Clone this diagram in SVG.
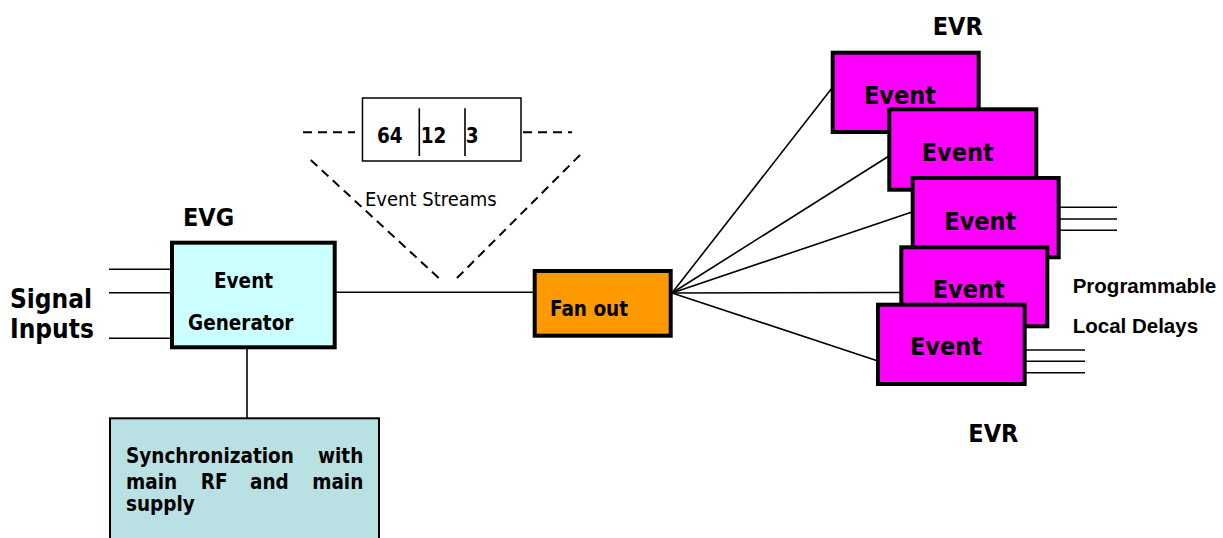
<svg xmlns="http://www.w3.org/2000/svg" width="1223" height="538" viewBox="0 0 1223 538">
<style>
.t{font-family:'DejaVu Sans Condensed','DejaVu Sans',sans-serif;font-stretch:condensed;font-weight:bold;fill:#000}
.r{font-family:'DejaVu Sans Condensed','DejaVu Sans',sans-serif;font-stretch:condensed;font-weight:normal;fill:#000}
.a{font-family:'Liberation Sans',Arial,sans-serif;font-weight:bold;fill:#000}
.ln{stroke:#000;stroke-width:1.6;fill:none}
.dash{stroke:#000;stroke-width:2;fill:none;stroke-dasharray:9 6}
.evr{fill:#ff00ff;stroke:#000;stroke-width:4}
</style>
<rect width="1223" height="538" fill="#fff"/>
<g id="connectors">
<line class="ln" x1="109" y1="269.3" x2="171" y2="269.3"/>
<line class="ln" x1="109" y1="292.7" x2="171" y2="292.7"/>
<line class="ln" x1="109" y1="338.3" x2="171" y2="338.3"/>
<line class="ln" x1="247" y1="349" x2="247" y2="418"/>
<line class="ln" x1="336" y1="292.3" x2="533" y2="292.3"/>
<line class="ln" x1="672" y1="293" x2="832" y2="88"/>
<line class="ln" x1="672" y1="293" x2="889" y2="156"/>
<line class="ln" x1="672" y1="293" x2="912" y2="212"/>
<line class="ln" x1="672" y1="293" x2="901" y2="292.5"/>
<line class="ln" x1="672" y1="293" x2="878" y2="361"/>
<line class="ln" x1="1060" y1="207.3" x2="1117" y2="207.3"/>
<line class="ln" x1="1060" y1="219" x2="1117" y2="219"/>
<line class="ln" x1="1060" y1="230.3" x2="1117" y2="230.3"/>
<line class="ln" x1="1026" y1="350" x2="1085" y2="350"/>
<line class="ln" x1="1026" y1="361.3" x2="1085" y2="361.3"/>
<line class="ln" x1="1026" y1="372.7" x2="1085" y2="372.7"/>
</g>
<g id="event-streams">
<line class="dash" x1="303" y1="132.3" x2="355" y2="132.3"/>
<line class="dash" x1="523" y1="132.3" x2="572" y2="132.3"/>
<line class="dash" x1="310.7" y1="160" x2="442.7" y2="281.7"/>
<line class="dash" x1="580" y1="155" x2="453.3" y2="281.7"/>
<rect x="362.5" y="98" width="158.5" height="63" fill="#fff" stroke="#000" stroke-width="1.5"/>
<line class="ln" x1="419.3" y1="108.3" x2="419.3" y2="156"/>
<line class="ln" x1="465" y1="108.3" x2="465" y2="156"/>
<text class="t" x="377" y="143.3" font-size="20.5">64</text>
<text class="t" x="420.7" y="143.3" font-size="20.5">12</text>
<text class="t" x="465.7" y="143.3" font-size="20.5">3</text>
<text class="r" x="365" y="206" font-size="20">Event Streams</text>
</g>
<g id="signal-inputs">
<text class="t" x="10" y="308" font-size="26">Signal</text>
<text class="t" x="10" y="338.3" font-size="26">Inputs</text>
</g>
<g id="evg">
<text class="t" x="183" y="226" font-size="25">EVG</text>
<rect x="172" y="242.7" width="162.7" height="104.6" fill="#ccffff" stroke="#000" stroke-width="4"/>
<text class="t" x="214" y="288" font-size="20.5">Event</text>
<text class="t" x="188" y="330" font-size="20.5">Generator</text>
</g>
<g id="sync">
<rect x="110" y="418.3" width="269" height="130" fill="#b9e0e3" stroke="#000" stroke-width="2"/>
<text class="t" x="126" y="463.3" font-size="20.5">Synchronization</text>
<text class="t" x="363.3" y="463.3" font-size="20.5" text-anchor="end">with</text>
<text class="t" x="126" y="489.3" font-size="20.5">main</text>
<text class="t" x="200.7" y="489.3" font-size="20.5">RF</text>
<text class="t" x="250" y="489.3" font-size="20.5">and</text>
<text class="t" x="363.3" y="489.3" font-size="20.5" text-anchor="end">main</text>
<text class="t" x="126" y="511" font-size="20.5">supply</text>
</g>
<g id="fanout">
<rect x="534.7" y="271" width="136" height="64.7" fill="#ff9900" stroke="#000" stroke-width="4"/>
<text class="t" x="550" y="316" font-size="20.5">Fan out</text>
</g>
<g id="evr-label-top"><text class="t" x="932.7" y="35" font-size="25">EVR</text></g>
<g id="evr1">
<rect class="evr" x="832.7" y="52.7" width="146" height="79.3"/>
<text class="t" x="864" y="104" font-size="25">Event</text>
</g>
<g id="evr2">
<rect class="evr" x="889.3" y="109.3" width="147" height="80.4"/>
<text class="t" x="921.7" y="161" font-size="25">Event</text>
</g>
<g id="evr3">
<rect class="evr" x="912.7" y="178" width="146" height="79.3"/>
<text class="t" x="944.3" y="230" font-size="25">Event</text>
</g>
<g id="evr4">
<rect class="evr" x="901.3" y="247.3" width="146" height="79"/>
<text class="t" x="932.7" y="298.3" font-size="25">Event</text>
</g>
<g id="evr5">
<rect class="evr" x="878" y="304.7" width="146.7" height="79.3"/>
<text class="t" x="910" y="355" font-size="25">Event</text>
</g>
<g id="delays">
<text class="a" x="1072.7" y="292.7" font-size="20.5">Programmable</text>
<text class="a" x="1072.7" y="333.3" font-size="20.5">Local Delays</text>
</g>
<g id="evr-label-bottom"><text class="t" x="968.3" y="442" font-size="25">EVR</text></g>
</svg>
